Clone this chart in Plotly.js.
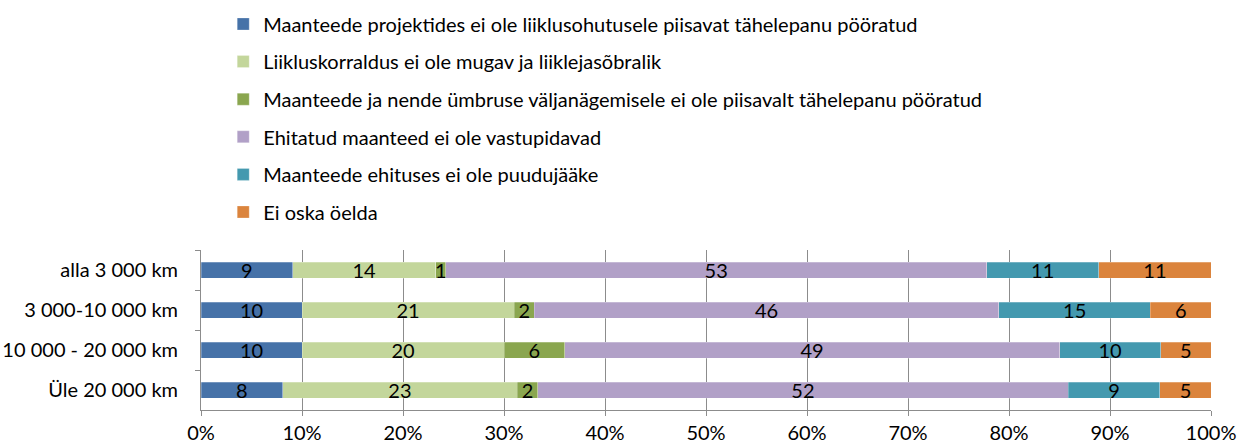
<!DOCTYPE html>
<html><head><meta charset="utf-8">
<script src="https://cdn.plot.ly/plotly-3.0.1.min.js"></script>
<style>html,body{margin:0;padding:0;background:#fff}#chart{width:1237px;height:448px}</style>
</head><body><div id="chart"></div>
<script>
const categories = ["alla 3 000 km", "3 000-10 000 km", "10 000 - 20 000 km", "Üle 20 000 km"];
const seriesNames = [
  "Maanteede projektides ei ole liiklusohutusele piisavat tähelepanu pööratud",
  "Liikluskorraldus ei ole mugav ja liiklejasõbralik",
  "Maanteede ja nende ümbruse väljanägemisele ei ole piisavalt tähelepanu pööratud",
  "Ehitatud maanteed ei ole vastupidavad",
  "Maanteede ehituses ei ole puudujääke",
  "Ei oska öelda"
];
const s1 = [9, 10, 10, 8];
const s2 = [14, 21, 20, 23];
const s3 = [1, 2, 6, 2];
const s4 = [53, 46, 49, 52];
const s5 = [11, 15, 10, 9];
const s6 = [11, 6, 5, 5];
const seriesValues = [s1, s2, s3, s4, s5, s6];
const colors = ["#4672A8", "#C3D69B", "#8AA64F", "#B1A0C7", "#4499AF", "#DB843D"];
const xTickVals = [0,10,20,30,40,50,60,70,80,90,100];
const xTickText = ["0%","10%","20%","30%","40%","50%","60%","70%","80%","90%","100%"];

const FONT = "Lato, 'Open Sans', sans-serif";
const traces = seriesValues.map((vals, i) => ({
  type: "bar",
  orientation: "h",
  name: seriesNames[i],
  y: categories,
  x: vals,
  text: vals.map(String),
  textposition: "inside",
  insidetextanchor: "middle",
  textangle: 0,
  constraintext: "none",
  textfont: {family: FONT, size: 20, color: "#000"},
  marker: {color: colors[i], line: {color: "rgba(255,255,255,0.5)", width: 0.5}},
  legendgroup: "g" + i,
  hoverinfo: "none"
}));

const layout = {
  width: 1237, height: 448,
  margin: {l: 201, r: 26, t: 250, b: 38},
  barmode: "stack",
  barnorm: "percent",
  bargap: 0.6,
  paper_bgcolor: "#fff",
  plot_bgcolor: "#fff",
  font: {family: FONT, size: 20, color: "#000"},
  showlegend: true,
  legend: {
    x: 0.022, xanchor: "left", y: 0.99, yref: "container", yanchor: "top",
    traceorder: "grouped",
    tracegroupgap: 8.6,
    itemwidth: 30,
    font: {family: FONT, size: 20, color: "#000"},
    bgcolor: "rgba(0,0,0,0)"
  },
  xaxis: {
    range: [0, 100],
    tickvals: xTickVals,
    ticktext: xTickText,
    showgrid: true, gridcolor: "#8c8c8c", gridwidth: 1,
    showline: true, linecolor: "#8c8c8c", linewidth: 1,
    ticks: "outside", ticklen: 5, tickcolor: "#8c8c8c",
    zeroline: false,
    ticklabelstandoff: 0,
    tickfont: {family: FONT, size: 20, color: "#000"},
    fixedrange: true
  },
  yaxis: {
    type: "category",
    autorange: "reversed",
    showline: true, linecolor: "#8c8c8c", linewidth: 1,
    ticks: "outside", ticklen: 5, tickcolor: "#8c8c8c",
    tickson: "boundaries",
    showgrid: false,
    ticklabelstandoff: 18,
    tickfont: {family: FONT, size: 20, color: "#000"},
    fixedrange: true
  }
};
Plotly.newPlot("chart", traces, layout, {displayModeBar: false, staticPlot: true});
</script></body></html>
